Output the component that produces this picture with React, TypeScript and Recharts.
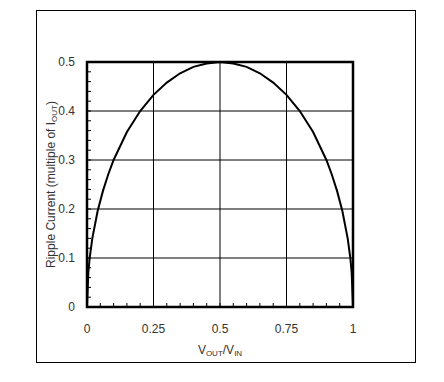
import { Label, Line, LineChart, ReferenceArea, ReferenceLine, XAxis, YAxis } from "recharts";

const dutyCycle = [0, 0.005, 0.01, 0.02, 0.04, 0.06, 0.08, 0.1, 0.15, 0.2, 0.25, 0.3, 0.35, 0.4, 0.45, 0.5, 0.55, 0.6, 0.65, 0.7, 0.75, 0.8, 0.85, 0.9, 0.92, 0.94, 0.96, 0.98, 0.99, 0.995, 1];
const rippleCurrent = [0, 0.07, 0.1, 0.14, 0.196, 0.237, 0.271, 0.3, 0.357, 0.4, 0.433, 0.458, 0.477, 0.49, 0.497, 0.5, 0.497, 0.49, 0.477, 0.458, 0.433, 0.4, 0.357, 0.3, 0.271, 0.237, 0.196, 0.14, 0.1, 0.07, 0];

const xMajorTicks = [0, 0.25, 0.5, 0.75, 1];
const xMinorTicks = [0, 0.05, 0.1, 0.15, 0.2, 0.25, 0.3, 0.35, 0.4, 0.45, 0.5, 0.55, 0.6, 0.65, 0.7, 0.75, 0.8, 0.85, 0.9, 0.95, 1];
const yMajorTicks = [0, 0.1, 0.2, 0.3, 0.4, 0.5];
const yMinorTicks = [0, 0.02, 0.04, 0.06, 0.08, 0.1, 0.12, 0.14, 0.16, 0.18, 0.2, 0.22, 0.24, 0.26, 0.28, 0.3, 0.32, 0.34, 0.36, 0.38, 0.4, 0.42, 0.44, 0.46, 0.48, 0.5];

const data = dutyCycle.map((d, i) => ({ d, ripple: rippleCurrent[i] }));

const font = "'Liberation Sans', Arial, sans-serif";
const textColor = "#333";

function XTick(props: any) {
  const { x, y, payload } = props;
  const v = payload.value;
  return (
    <g>
      <line x1={x} x2={x} y1={y} y2={y - 4} stroke="#000" />
      {xMajorTicks.includes(v) && (
        <text x={x} y={y + 26} textAnchor="middle" fontSize={12} fontFamily={font} fill={textColor}>
          {String(v)}
        </text>
      )}
    </g>
  );
}

function YTick(props: any) {
  const { x, y, payload } = props;
  const v = payload.value;
  return (
    <g>
      <line x1={x + 12} x2={x + 16} y1={y} y2={y} stroke="#000" />
      {yMajorTicks.includes(v) && (
        <text x={x} y={y + 4} textAnchor="end" fontSize={12} fontFamily={font} fill={textColor}>
          {String(v)}
        </text>
      )}
    </g>
  );
}

export default function App() {
  return (
    <div style={{ position: "absolute", left: 0, top: 0, width: 444, height: 382, background: "#fff" }}>
      <div
        style={{
          position: "absolute",
          left: 36,
          top: 10,
          width: 380,
          height: 353,
          border: "1px solid #000",
          boxSizing: "border-box",
        }}
      />
      <LineChart width={444} height={382} data={data} margin={{ top: 62, right: 91, bottom: 35, left: 27 }}>
        <XAxis
          dataKey="d"
          type="number"
          domain={[0, 1]}
          ticks={xMinorTicks}
          interval={0}
          tickSize={0}
          tickMargin={0}
          tickLine={false}
          axisLine={false}
          tick={<XTick />}
          height={40}
        >
          <Label
            content={(p: any) => {
              const vb = p.viewBox;
              return (
                <text x={vb.x + vb.width / 2} y={354} textAnchor="middle" fontSize={12} fontFamily={font} fill={textColor}>
                  V<tspan fontSize={8} dy={2}>OUT</tspan>
                  <tspan dy={-2}>/V</tspan>
                  <tspan fontSize={8} dy={2}>IN</tspan>
                </text>
              );
            }}
          />
        </XAxis>
        <YAxis
          type="number"
          domain={[0, 0.5]}
          ticks={yMinorTicks}
          interval={0}
          tickSize={0}
          tickMargin={12}
          tickLine={false}
          axisLine={false}
          tick={<YTick />}
          width={60}
        >
          <Label
            content={(p: any) => {
              const vb = p.viewBox;
              const cx = vb.x + 28;
              const cy = vb.y + vb.height / 2;
              return (
                <text
                  x={cx}
                  y={cy}
                  transform={`rotate(-90 ${cx} ${cy})`}
                  textAnchor="middle"
                  fontSize={12}
                  fontFamily={font}
                  fill={textColor}
                >
                  Ripple Current (multiple of I<tspan fontSize={8} dy={2}>OUT</tspan>
                  <tspan dy={-2}>)</tspan>
                </text>
              );
            }}
          />
        </YAxis>
        {xMajorTicks.slice(1, -1).map((v) => (
          <ReferenceLine key={`x${v}`} x={v} stroke="#000" strokeWidth={1} />
        ))}
        {yMajorTicks.slice(1, -1).map((v) => (
          <ReferenceLine key={`y${v}`} y={v} stroke="#000" strokeWidth={1} />
        ))}
        <ReferenceArea x1={0} x2={1} y1={0} y2={0.5} fill="none" stroke="#000" strokeWidth={2.5} fillOpacity={0} />
        <Line
          type="linear"
          dataKey="ripple"
          stroke="#000"
          strokeWidth={2}
          dot={false}
          isAnimationActive={false}
        />
      </LineChart>
    </div>
  );
}
